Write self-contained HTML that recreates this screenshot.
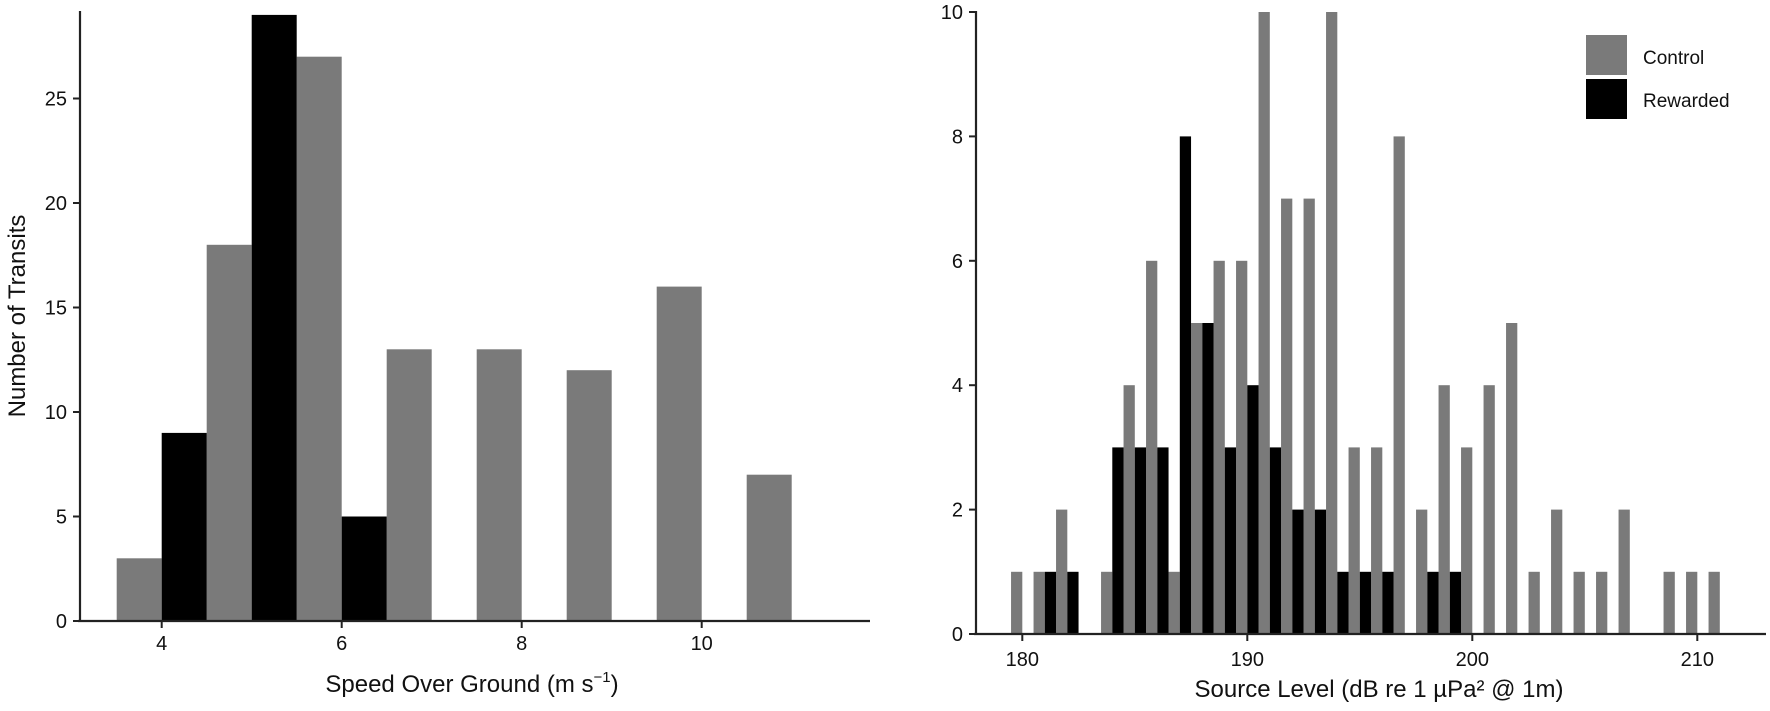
<!DOCTYPE html>
<html><head><meta charset="utf-8"><style>
html,body{margin:0;padding:0;background:#fff;}
svg{display:block;font-family:"Liberation Sans",Arial,sans-serif;}
</style></head><body>
<svg width="1770" height="711" viewBox="0 0 1770 711" xmlns="http://www.w3.org/2000/svg">
<g id="left"></g>
<g id="right"></g>
<script>
(function(){
var NS="http://www.w3.org/2000/svg";
function el(p,t,a,txt){var e=document.createElementNS(NS,t);for(var k in a)e.setAttribute(k,a[k]);if(txt!==undefined)e.textContent=txt;p.appendChild(e);return e;}
var G="#7a7a7a";
// LEFT
var L=document.getElementById("left");
var y0=621,pu=20.9,x4=161.7,ux=90;
function lx(v){return x4+(v-4)*ux;}
var lg=[[4,3],[5,18],[6,27],[7,13],[8,13],[9,12],[10,16],[11,7]];
var lb=[[4,9],[5,29],[6,5]];
lg.forEach(function(d){el(L,"rect",{x:lx(d[0])-ux/2,y:y0-d[1]*pu,width:ux/2,height:d[1]*pu,fill:G});});
lb.forEach(function(d){el(L,"rect",{x:lx(d[0]),y:y0-d[1]*pu,width:ux/2,height:d[1]*pu,fill:"#000"});});
el(L,"line",{x1:80,y1:11,x2:80,y2:y0+1,stroke:"#222","stroke-width":2.2});
el(L,"line",{x1:78,y1:y0,x2:870,y2:y0,stroke:"#222","stroke-width":2.2});
for(var v=0;v<=25;v+=5){var y=y0-v*pu;el(L,"line",{x1:73,y1:y,x2:80,y2:y,stroke:"#222","stroke-width":2});
el(L,"text",{x:67,y:y+7,"text-anchor":"end","font-size":20,fill:"#111"},String(v));}
[4,6,8,10].forEach(function(v){var x=lx(v);el(L,"line",{x1:x,y1:y0,x2:x,y2:y0+7,stroke:"#222","stroke-width":2});
el(L,"text",{x:x,y:y0+29,"text-anchor":"middle","font-size":20,fill:"#111"},String(v));});
var t=el(L,"text",{x:472,y:692,"text-anchor":"middle","font-size":24,fill:"#111"},"Speed Over Ground  (m s");
el(t,"tspan",{"font-size":15,dy:-10},"\u22121");
el(t,"tspan",{"font-size":24,dy:10},")");
el(L,"text",{x:0,y:0,transform:"translate(25,316) rotate(-90)","text-anchor":"middle","font-size":24,fill:"#111"},"Number of Transits");
// RIGHT
var R=document.getElementById("right");
var ry0=634,rpu=62.2,x180=1022.3,U=22.5;
function rx(v){return x180+(v-180)*U;}
var rg={180:1,181:1,182:2,184:1,185:4,186:6,187:1,188:5,189:6,190:6,191:10,192:7,193:7,194:10,195:3,196:3,197:8,198:2,199:4,200:3,201:4,202:5,203:1,204:2,205:1,206:1,207:2,209:1,210:1,211:1};
var rb={181:1,182:1,184:3,185:3,186:3,187:8,188:5,189:3,190:4,191:3,192:2,193:2,194:1,195:1,196:1,198:1,199:1};
for(var k in rg){var h=rg[k]*rpu;el(R,"rect",{x:rx(+k)-U/2,y:ry0-h,width:U/2,height:h,fill:G});}
for(var k in rb){var h=rb[k]*rpu;el(R,"rect",{x:rx(+k),y:ry0-h,width:U/2,height:h,fill:"#000"});}
el(R,"line",{x1:976,y1:11,x2:976,y2:ry0+1,stroke:"#222","stroke-width":2.2});
el(R,"line",{x1:974,y1:ry0,x2:1766,y2:ry0,stroke:"#222","stroke-width":2.2});
for(var v=0;v<=10;v+=2){var y=ry0-v*rpu;el(R,"line",{x1:969,y1:y,x2:976,y2:y,stroke:"#222","stroke-width":2});
el(R,"text",{x:963,y:y+7,"text-anchor":"end","font-size":20,fill:"#111"},String(v));}
[180,190,200,210].forEach(function(v){var x=rx(v);el(R,"line",{x1:x,y1:ry0,x2:x,y2:ry0+7,stroke:"#222","stroke-width":2});
el(R,"text",{x:x,y:ry0+32,"text-anchor":"middle","font-size":20,fill:"#111"},String(v));});
el(R,"text",{x:1379,y:697,"text-anchor":"middle","font-size":24,fill:"#111"},"Source Level (dB re 1 \u00b5Pa\u00b2 @ 1m)");
// legend
el(R,"rect",{x:1586,y:35,width:41,height:40,fill:G});
el(R,"rect",{x:1586,y:79,width:41,height:40,fill:"#000"});
el(R,"text",{x:1643,y:64,"font-size":19,fill:"#111"},"Control");
el(R,"text",{x:1643,y:107,"font-size":19,fill:"#111"},"Rewarded");
})();
</script>
</svg>
</body></html>
